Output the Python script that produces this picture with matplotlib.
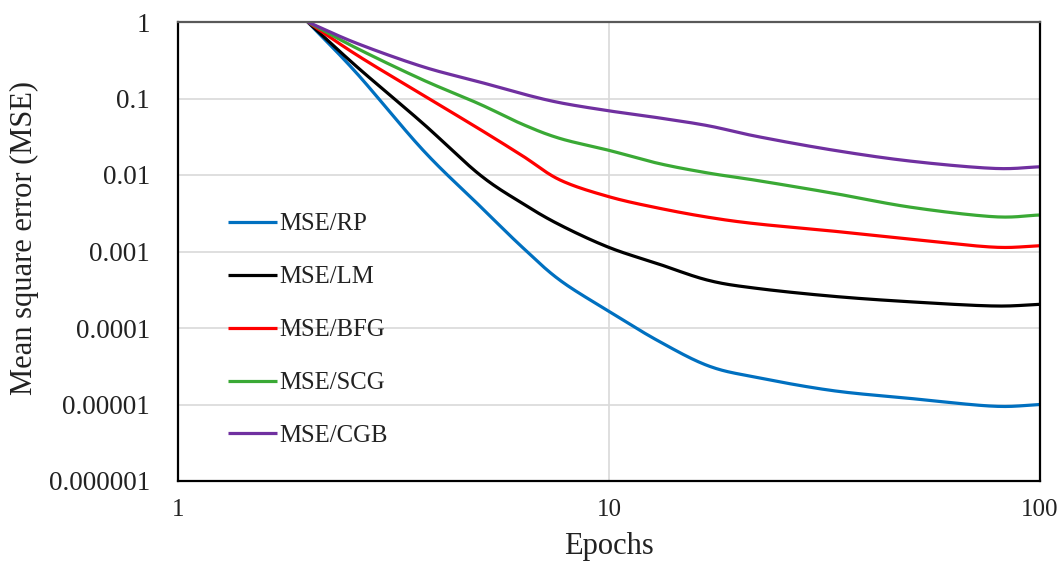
import numpy as np
import matplotlib
matplotlib.use("Agg")
import matplotlib.pyplot as plt
from matplotlib.ticker import FixedLocator, FixedFormatter, NullLocator

# Data
epochs = [2, 2.6, 3.7, 5, 6.3, 7.7, 10, 13, 17, 22, 33, 50, 78, 100]
mse_rp = [1, 0.213, 0.0212, 0.0040, 0.00113, 0.00042, 0.000165, 0.000068,
          0.000032, 0.0000226, 0.0000152, 0.0000120, 0.0000095, 0.0000100]
mse_lm = [1, 0.26, 0.0473, 0.0102, 0.00425, 0.00222, 0.00113, 0.00069,
          0.00042, 0.00033, 0.00026, 0.00022, 0.000194, 0.000204]
mse_bfg = [1, 0.37, 0.111, 0.040, 0.0178, 0.0086, 0.0052, 0.0037,
           0.0028, 0.0023, 0.00185, 0.00145, 0.00114, 0.00119]
mse_scg = [1, 0.453, 0.175, 0.085, 0.046, 0.030, 0.021, 0.0142,
           0.0106, 0.0085, 0.0058, 0.0038, 0.00285, 0.0030]
mse_cgb = [1, 0.526, 0.26, 0.165, 0.115, 0.088, 0.069, 0.056,
           0.044, 0.032, 0.0212, 0.0152, 0.0122, 0.0128]

series_labels = ["MSE/RP", "MSE/LM", "MSE/BFG", "MSE/SCG", "MSE/CGB"]
series_colors = ["#0070C0", "#000000", "#FF0000", "#3AA935", "#7030A0"]

y_ticks = [1e-6, 1e-5, 1e-4, 1e-3, 1e-2, 1e-1, 1]
y_tick_labels = ["0.000001", "0.00001", "0.0001", "0.001", "0.01", "0.1", "1"]
x_ticks = [1, 10, 100]
x_tick_labels = ["1", "10", "100"]


def smooth_path(xs, ys, n=30):
    """Excel-like smoothed line: Catmull-Rom through the points in log-log space."""
    lx = np.log10(np.asarray(xs, float))
    ly = np.log10(np.asarray(ys, float))
    P = np.column_stack([lx, ly])
    P = np.vstack([P[0] - (P[1] - P[0]), P, P[-1] + (P[-1] - P[-2])])
    out = []
    t = np.linspace(0, 1, n, endpoint=False)[:, None]
    for i in range(1, len(P) - 2):
        p0, p1, p2, p3 = P[i - 1], P[i], P[i + 1], P[i + 2]
        seg = 0.5 * ((2 * p1) + (-p0 + p2) * t
                     + (2 * p0 - 5 * p1 + 4 * p2 - p3) * t ** 2
                     + (-p0 + 3 * p1 - 3 * p2 + p3) * t ** 3)
        out.append(seg)
    out.append(P[-2][None, :])
    out = np.vstack(out)
    return 10 ** out[:, 0], 10 ** out[:, 1]


plt.rcParams["font.family"] = ["Liberation Serif", "DejaVu Serif"]

fig = plt.figure(figsize=(10.64, 5.62), dpi=100)
ax = fig.add_axes([178 / 1064, 1 - 481 / 562, 862 / 1064, 459 / 562])

all_series = [mse_rp, mse_lm, mse_bfg, mse_scg, mse_cgb]
for vals, lab, col in zip(all_series, series_labels, series_colors):
    sx, sy = smooth_path(epochs, vals)
    ax.plot(sx, sy, color=col, lw=2.3, label=lab, solid_capstyle="butt",
            solid_joinstyle="round")

ax.set_xscale("log")
ax.set_yscale("log")
ax.set_xlim(1, 100)
ax.set_ylim(1e-6, 1)

ax.xaxis.set_major_locator(FixedLocator(x_ticks))
ax.xaxis.set_major_formatter(FixedFormatter(x_tick_labels))
ax.xaxis.set_minor_locator(NullLocator())
ax.yaxis.set_major_locator(FixedLocator(y_ticks))
ax.yaxis.set_major_formatter(FixedFormatter(y_tick_labels))
ax.yaxis.set_minor_locator(NullLocator())

ax.tick_params(axis="both", length=0, colors="#222222")
ax.tick_params(axis="x", pad=13, labelsize=18)
ax.tick_params(axis="y", pad=20, labelsize=19.5)

ax.grid(True, which="major", color="#D9D9D9", lw=1.2)
ax.set_axisbelow(True)

for side in ["left", "bottom", "right"]:
    ax.spines[side].set_color("#000000")
    ax.spines[side].set_linewidth(1.6)
ax.spines["top"].set_color("#595959")
ax.spines["top"].set_linewidth(1.6)

ax.set_xlabel("Epochs", fontsize=22, color="#222222")
ax.xaxis.set_label_coords(0.5, -0.111)
ax.set_ylabel("Mean square error (MSE)", fontsize=22, color="#222222")
ax.yaxis.set_label_coords(-0.1613, 0.5305)

leg = ax.legend(loc="upper left", bbox_to_anchor=(228 / 1064, 1 - 213 / 562),
                bbox_transform=fig.transFigure, frameon=False, fontsize=17.8,
                handlelength=2.0, handletextpad=0.08, labelspacing=1.24,
                borderpad=0, borderaxespad=0)
for t in leg.get_texts():
    t.set_color("#222222")

fig.savefig("out.png", dpi=100)
